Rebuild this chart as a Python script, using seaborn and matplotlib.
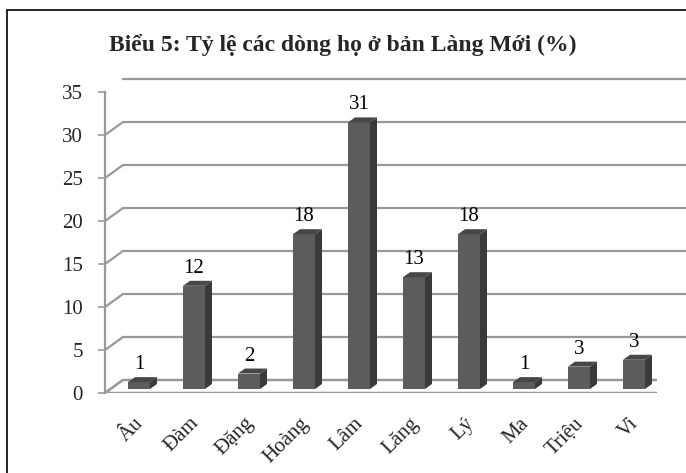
import matplotlib
matplotlib.use("Agg")
import matplotlib.pyplot as plt
import seaborn as sns
import numpy as np
import pandas as pd
from matplotlib.transforms import Affine2D, IdentityTransform
from matplotlib.patches import Polygon
from matplotlib.lines import Line2D

# ---- data ----
categories = ["Âu", "Đàm", "Đặng", "Hoàng", "Lâm", "Lăng", "Lý", "Ma", "Triệu", "Vi"]
values = [0.8, 12, 1.8, 18, 31, 13, 18, 0.8, 2.6, 3.4]
yticks = [0, 5, 10, 15, 20, 25, 30, 35]
title = "Biểu 5: Tỷ lệ các dòng họ ở bản Làng Mới (%)"

sns.set_theme(style="white")
plt.rcParams["font.family"] = ["Liberation Serif", "DejaVu Serif"]

W, H, DPI = 686, 473, 100
fig = plt.figure(figsize=(W / DPI, H / DPI), dpi=DPI)
fig.patch.set_facecolor("white")

# front plane of the 3D box (pixels)
L, R, B, T = 105, 657, 393, 92
ax = fig.add_axes([L / W, (H - B) / H, (R - L) / W, (B - T) / H])
ax.set_facecolor("none")

df = pd.DataFrame({"cat": categories, "val": values})
sns.barplot(data=df, x="cat", y="val", color="#5c5c5c", width=0.4,
            saturation=1, edgecolor="none", ax=ax, zorder=5)

x0, x1 = -0.527, 9.509
ax.set_xlim(x0, x1)
ax.set_ylim(0, 35)
ax.set_xlabel("")
ax.set_ylabel("")

grid_c = "#999999"
wdx, wdy = 18, 13      # back wall offset (px)
bdx, bdy = 5, 4        # bar placement offset into depth (px)
ddx, ddy = 7, 5        # bar depth (px)

# walls / grid
for v in yticks:
    sh = Affine2D().translate(wdx, wdy)
    if v > 0:
        ax.plot([x0, x1 + 0.33], [v, v], color=grid_c, lw=1.6,
                transform=ax.transData + sh, zorder=1, clip_on=False)
    p0 = ax.transData.transform((x0, v))
    ax.add_line(Line2D([p0[0], p0[0] + wdx], [p0[1], p0[1] + wdy],
                       color=grid_c, lw=1.6, transform=IdentityTransform(),
                       zorder=1))
# floor
a = ax.transData.transform((x0, 0))
b = ax.transData.transform((x1, 0))
floor = Polygon([[a[0], a[1]], [b[0], b[1]], [b[0] + wdx, b[1] + wdy],
                 [a[0] + wdx, a[1] + wdy]], closed=True, facecolor="white",
                edgecolor=grid_c, lw=1.8, transform=IdentityTransform(),
                zorder=2)
bars = list(ax.patches)
ax.add_patch(floor)

# 3D bars
shift = Affine2D().translate(bdx, bdy)
for p, v in zip(bars, values):
    p.set_transform(ax.transData + shift)
    xl, xr = p.get_x(), p.get_x() + p.get_width()
    (pxl, pyb), (pxr, pyt) = (ax.transData + shift).transform([(xl, 0), (xr, v)])
    side = Polygon([[pxr, pyb], [pxr + ddx, pyb + ddy], [pxr + ddx, pyt + ddy],
                    [pxr, pyt]], closed=True, facecolor="#3a3a3a",
                   edgecolor="none", transform=IdentityTransform(), zorder=6)
    top = Polygon([[pxl, pyt], [pxr, pyt], [pxr + ddx, pyt + ddy],
                   [pxl + ddx, pyt + ddy]], closed=True, facecolor="#474747",
                  edgecolor="none", transform=IdentityTransform(), zorder=6)
    ax.add_patch(side)
    ax.add_patch(top)

# data labels
for i, v in enumerate(values):
    ax.annotate(f"{round(v)}", xy=(i, v), xytext=(bdx, bdy + 8),
                textcoords="offset pixels", ha="center", va="bottom",
                fontsize=15, color="black", zorder=7)

# axes styling
for s in ["top", "right", "bottom"]:
    ax.spines[s].set_visible(False)
ax.spines["left"].set_color(grid_c)
ax.spines["left"].set_linewidth(1.6)
ax.set_yticks(yticks)
ax.set_yticklabels([str(t) for t in yticks], fontsize=15)
ax.tick_params(axis="y", length=5, width=1.2, color=grid_c, pad=11, left=True)
ax.set_xticks(range(len(categories)))
ax.set_xticklabels(categories, rotation=45, ha="right", rotation_mode="anchor",
                   fontsize=15)
ax.tick_params(axis="x", length=0, pad=15)

fig.text(0.5, 1 - 45 / H, title, ha="center", va="center", fontsize=17,
         fontweight="bold")

# outer frame (left and top edges)
fig.add_artist(Line2D([7 / W, 7 / W], [0, 1 - 10 / H], color="black", lw=1.2))
fig.add_artist(Line2D([7 / W, 1], [1 - 10 / H, 1 - 10 / H], color="black", lw=1.2))

fig.savefig("out.png", dpi=DPI)
